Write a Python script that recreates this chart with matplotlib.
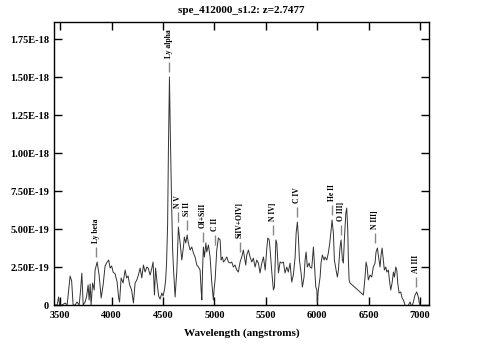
import numpy as np
import matplotlib.pyplot as plt
from matplotlib.ticker import FuncFormatter

plt.rcParams["font.family"] = ["Liberation Serif", "DejaVu Serif"]
plt.rcParams["font.weight"] = "bold"

# spectrum (flux in units of 1e-19)
wave = np.array([
    3451, 3471, 3485, 3495, 3519, 3549, 3568, 3583, 3597, 3612,
    3626, 3646, 3665, 3685, 3699, 3711, 3724, 3743, 3758, 3772,
    3782, 3792, 3801, 3816, 3831, 3840, 3860, 3879, 3899, 3918,
    3937, 3957, 3972, 3986, 4001, 4015, 4035, 4054, 4069, 4078,
    4093, 4112, 4132, 4147, 4161, 4176, 4195, 4213, 4229, 4246,
    4261, 4278, 4294, 4310, 4326, 4343, 4356, 4375, 4392, 4404,
    4417, 4428, 4443, 4458, 4472, 4489, 4501, 4516, 4526, 4535,
    4545, 4553, 4563, 4572, 4584, 4594, 4603, 4618, 4635, 4650,
    4667, 4683, 4699, 4708, 4722, 4735, 4747, 4764, 4780, 4796,
    4812, 4829, 4845, 4861, 4871, 4878, 4885, 4893, 4903, 4917,
    4926, 4942, 4958, 4975, 4990, 4999, 5007, 5023, 5039, 5056,
    5065, 5078, 5088, 5104, 5121, 5136, 5153, 5169, 5185, 5201,
    5218, 5233, 5250, 5266, 5282, 5292, 5305, 5315, 5331, 5347,
    5364, 5379, 5396, 5412, 5428, 5444, 5461, 5477, 5494, 5510,
    5520, 5533, 5542, 5559, 5574, 5584, 5598, 5607, 5623, 5639,
    5656, 5671, 5687, 5704, 5719, 5736, 5752, 5768, 5785, 5795,
    5807, 5817, 5827, 5843, 5856, 5872, 5882, 5892, 5904, 5921,
    5930, 5947, 5963, 5972, 5986, 5996, 6001, 6011, 6028, 6037,
    6050, 6067, 6076, 6093, 6108, 6122, 6135, 6144, 6157, 6167,
    6180, 6196, 6206, 6222, 6232, 6245, 6254, 6264, 6278, 6287,
    6297, 6303, 6310, 6319, 6449, 6465, 6475, 6485, 6497, 6514,
    6530, 6546, 6562, 6572, 6585, 6598, 6611, 6621, 6631, 6643,
    6653, 6667, 6677, 6692, 6702, 6715, 6728, 6741, 6751, 6764,
    6774, 6783, 6796, 6812, 6825, 6838, 6854, 6871, 6887, 6903,
    6919, 6935, 6951, 6968, 6983, 6993, 7000,
])
flux = np.array([
    0.00, 0.00, 0.53, 0.00, 0.00, 0.13, 0.00, 0.99, 1.91, 1.58,
    0.00, 0.00, 0.20, 0.00, 0.99, 2.10, 0.00, 0.20, 0.59, 1.32,
    0.33, 1.38, 0.00, 1.45, 0.99, 2.30, 2.83, 1.97, 0.46, 1.32,
    2.57, 2.83, 2.96, 2.43, 2.57, 2.17, 2.04, 1.51, 0.46, 0.20,
    1.78, 1.45, 2.30, 1.78, 1.91, 1.32, 0.99, 0.13, 1.45, 1.65,
    1.97, 2.43, 1.78, 2.63, 2.17, 2.50, 2.43, 1.97, 2.43, 2.83,
    0.66, 2.43, 1.45, 0.59, 0.39, 0.79, 0.59, 1.05, 1.65, 2.76,
    5.26, 10.2, 15.0, 11.05, 6.71, 3.62, 2.30, 0.53, 2.30, 5.13,
    4.08, 2.96, 3.82, 4.47, 4.08, 4.61, 4.08, 3.62, 3.82, 3.42,
    3.16, 2.63, 2.50, 2.30, 0.99, 0.33, 2.30, 3.82, 3.16, 4.08,
    3.49, 3.95, 3.16, 1.45, 0.33, 1.18, 1.65, 3.62, 4.41, 4.28,
    2.96, 3.16, 2.83, 2.96, 3.16, 2.83, 2.76, 2.83, 2.50, 2.63,
    2.30, 2.17, 2.83, 3.16, 3.62, 3.16, 2.63, 3.29, 3.62, 3.16,
    2.83, 3.09, 2.50, 2.96, 2.76, 2.11, 2.76, 3.16, 2.30, 3.75,
    4.41, 4.28, 3.62, 2.11, 0.99, 1.18, 4.28, 4.08, 2.11, 2.83,
    2.76, 2.83, 2.11, 2.50, 2.17, 2.76, 1.51, 1.97, 3.16, 4.74,
    5.46, 4.47, 2.96, 2.11, 1.18, 1.84, 2.96, 3.49, 2.50, 2.76,
    2.50, 2.43, 3.82, 2.76, 1.18, 0.99, 0.13, 0.99, 1.84, 2.76,
    3.29, 2.96, 3.16, 2.96, 3.42, 4.08, 4.93, 5.59, 4.74, 2.96,
    2.43, 1.84, 2.30, 3.82, 4.28, 2.96, 2.76, 4.28, 6.05, 6.38,
    4.93, 2.96, 1.65, 1.45, 0.66, 1.84, 2.83, 2.50, 1.65, 1.97,
    1.84, 2.50, 2.76, 3.49, 3.75, 3.09, 2.50, 3.29, 3.75, 2.96,
    2.30, 2.50, 2.17, 2.30, 1.65, 0.99, 1.45, 2.17, 1.84, 2.50,
    2.30, 1.45, 0.79, 0.86, 0.46, 0.33, 0.00, -0.13, 0.00, 0.20,
    -0.13, 0.20, 0.66, 0.86, 0.53, 0.13, 0.00,
]) * 1e-19

# emission lines marked at z = 2.7477
line_names = ["Ly beta", "Ly alpha", "N V", "Si II", "OI+SiII", "C II",
              "SiIV+OIV]", "N IV]", "C IV", "He II", "O III]", "N III]", "Al III"]
line_waves = [3844, 4556, 4647, 4729, 4887, 5003,
              5246, 5569, 5805, 6146, 6232, 6558, 6959]

yticks = [0, 2.5e-19, 5e-19, 7.5e-19, 1e-18, 1.25e-18, 1.5e-18, 1.75e-18]
xticks = [3500, 4000, 4500, 5000, 5500, 6000, 6500, 7000]

fig = plt.figure(figsize=(4.83, 3.58), dpi=100)
ax = fig.add_axes([0.1128, 0.148, 0.7754, 0.7905])

ax.plot(wave, flux, color="#333333", lw=0.7)

for name, lam in zip(line_names, line_waves):
    near = (wave > lam - 30) & (wave < lam + 30)
    top = flux[near].max()
    ax.vlines(lam, top + 0.33e-19, top + 0.99e-19, color="#888888", lw=1.0)
    ax.text(lam, top + 1.25e-19, name, rotation=90, ha="center", va="bottom",
            fontsize=5.5, fontweight="bold")

ax.set_xlim(3445, 7087)
ax.set_ylim(0, 1.862e-18)
ax.set_xticks(xticks)
ax.set_yticks(yticks)
ax.yaxis.set_major_formatter(FuncFormatter(lambda v, p: "0" if v == 0 else format(v, ".2E")))
ax.tick_params(direction="in", top=True, right=True, length=6, width=1,
               labelsize=7.5, pad=4)
for s in ax.spines.values():
    s.set_linewidth(1)

ax.text(0.5, 1 + 12 / 283, "spe_412000_s1.2: z=2.7477", transform=ax.transAxes,
        ha="center", va="center", fontsize=8, fontweight="bold")
ax.set_xlabel("Wavelength (angstroms)", fontsize=8, fontweight="bold", labelpad=6)

fig.savefig("out.png", dpi=100)
